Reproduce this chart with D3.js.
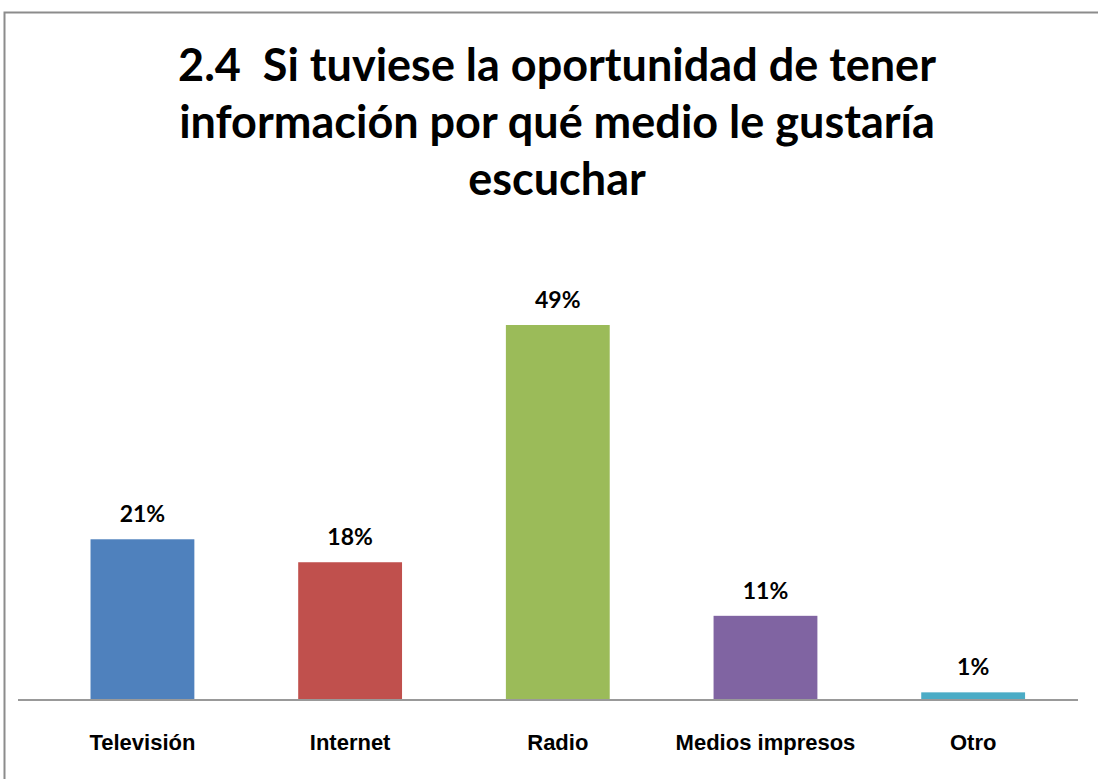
<!DOCTYPE html>
<html>
<head>
  <meta charset="utf-8">
  <script src="https://cdn.jsdelivr.net/npm/d3@7"></script>
  <style type="text/css">
    body {
      margin: 0;
      background: #fff;
      font-family: Lato, "Open Sans", sans-serif;
    }
    .title { font-size: 45px; font-weight: bold; fill: #000; white-space: pre; }
    .val { font-size: 23px; font-weight: bold; fill: #000; }
    .cat { font-size: 22px; font-weight: bold; fill: #000; }
  </style>
</head>
<body>
  <script type="text/javascript">

  // chart data
  const categories = ['Televisión', 'Internet', 'Radio', 'Medios impresos', 'Otro'];
  const values = [21, 18, 49, 11, 1];
  const colors = ['#4f81bd', '#c0504d', '#9bbb59', '#8064a2', '#4bacc6'];
  const titleLines = ['2.4  Si tuviese la oportunidad de tener',
                      'información por qué medio le gustaría',
                      'escuchar'];

  const W = 1098, H = 779;

  const svg = d3.select('body').append('svg')
              .attr('width', W)
              .attr('height', H);

  // frame (top + left edges visible)
  svg.append('path')
    .attr('d', `M4.5,${H} V12.5 H${W}`)
    .attr('fill', 'none')
    .attr('stroke', '#8c8c8c')
    .attr('stroke-width', 2);

  // title
  svg.append('g').selectAll('text')
    .data(titleLines)
    .join('text')
    .attr('class', 'title')
    .attr('x', 557)
    .attr('y', (d, i) => 81 + i * 57)
    .attr('text-anchor', 'middle')
    .text(d => d);

  // scales
  const baseY = 700;
  const xscale = d3.scaleBand().domain(categories).range([38.6, 1077]).paddingInner(0.5).paddingOuter(0.25);
  const yscale = d3.scaleLinear().domain([0, 49]).range([baseY, 325]);

  const g = svg.append('g');

  g.selectAll('rect')
    .data(values)
    .join('rect')
    .attr('x', (d, i) => xscale(categories[i]))
    .attr('width', xscale.bandwidth())
    .attr('y', d => yscale(d))
    .attr('height', d => baseY - yscale(d))
    .attr('fill', (d, i) => colors[i]);

  // value labels
  g.selectAll('text.val')
    .data(values)
    .join('text')
    .attr('class', 'val')
    .attr('x', (d, i) => xscale(categories[i]) + xscale.bandwidth() / 2)
    .attr('y', d => yscale(d) - 17)
    .attr('text-anchor', 'middle')
    .text(d => d + '%');

  // x axis
  const xaxis = d3.axisBottom(xscale).tickSize(0).tickPadding(34);
  const g_xaxis = svg.append('g')
    .attr('transform', `translate(0,${baseY})`)
    .call(xaxis);
  g_xaxis.select('.domain').remove();
  g_xaxis.append('line')
    .attr('x1', 18).attr('x2', 1078)
    .attr('stroke', '#999').attr('stroke-width', 2);
  g_xaxis.selectAll('.tick text')
    .attr('class', 'cat')
    .attr('font-family', null)
    .attr('font-size', null)
    .attr('fill', null);

  </script>
</body>
</html>
